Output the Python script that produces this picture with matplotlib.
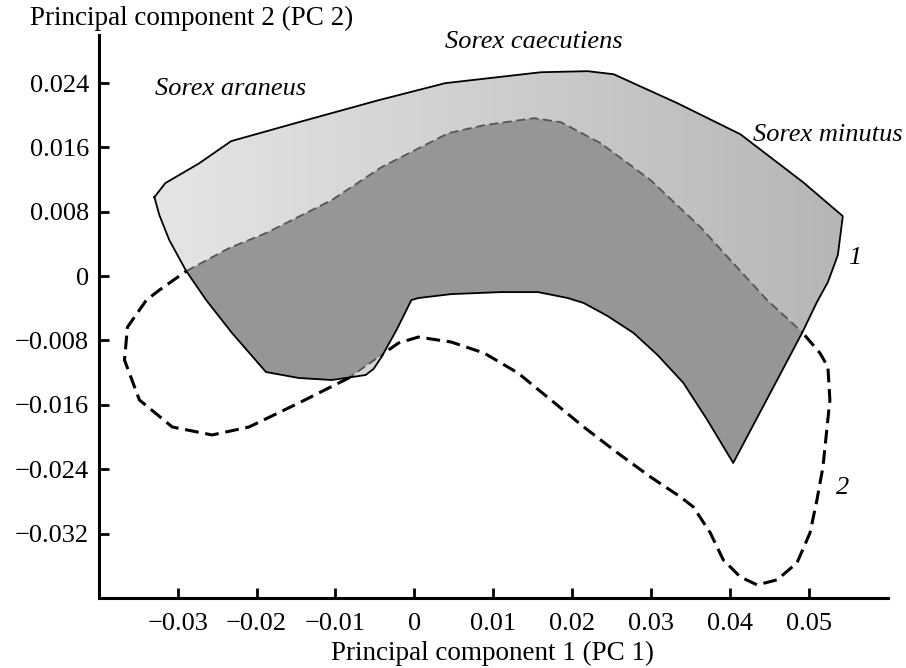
import numpy as np
import matplotlib
matplotlib.use('Agg')
import matplotlib.pyplot as plt
from matplotlib.path import Path
from matplotlib.patches import PathPatch

plt.rcParams['font.family'] = ['Liberation Serif', 'DejaVu Serif']
plt.rcParams['font.size'] = 19

# outline of region 1 (solid)
pc1_x = [-0.03295, -0.03157, -0.0273, -0.02323, -0.01465, -0.00455, 0.00391, 0.01604,
         0.02197, 0.02525, 0.03333, 0.04129, 0.04924, 0.05429, 0.05366, 0.0524, 0.05101,
         0.04912, 0.0404, 0.03712, 0.03409, 0.03081, 0.02778, 0.02449, 0.02146, 0.01944,
         0.01566, 0.01098, 0.00467, 0.0005, -0.00038, -0.00227, -0.00417, -0.00518,
         -0.00619, -0.01048, -0.01465, -0.01881, -0.02311, -0.02639, -0.02891, -0.03106,
         -0.03232]
pc2_y = [0.00981, 0.01155, 0.0140, 0.01677, 0.01913, 0.02186, 0.02398, 0.02534,
         0.02547, 0.02509, 0.02149, 0.01764, 0.01168, 0.00745, 0.00261, -0.00075, -0.00323,
         -0.00708, -0.02323, -0.01789, -0.01329, -0.00981, -0.00708, -0.00497, -0.00335, -0.00273,
         -0.00199, -0.00199, -0.00224, -0.00273, -0.00298, -0.00671, -0.01006, -0.01155,
         -0.0123, -0.01292, -0.01267, -0.01193, -0.00708, -0.00298, 0.00062, 0.00447,
         0.00758]

# outline of region 2 (dashed)
pc1_x2 = [-0.02891, -0.02348, -0.01881, -0.01048, -0.00417, 0.00429, 0.00884, 0.01515,
          0.01856, 0.02361, 0.02992, 0.03624, 0.0404, 0.0447, 0.04912, 0.05139, 0.0524,
          0.05265, 0.05177, 0.05101, 0.05013, 0.04848, 0.04596, 0.04343, 0.04129, 0.03914,
          0.0375, 0.03535, 0.03371, 0.02992, 0.02576, 0.02146, 0.0173, 0.01313, 0.00884,
          0.00467, 0.0005, -0.00202, -0.00417, -0.00833, -0.01465, -0.02096, -0.02563,
          -0.03068, -0.03485, -0.03674, -0.03636, -0.03396, -0.03232]
pc2_y2 = [0.00062, 0.00348, 0.00534, 0.00944, 0.01354, 0.01776, 0.01876, 0.01963,
          0.01913, 0.01652, 0.01193, 0.00609, 0.00161, -0.00298, -0.00696, -0.00957, -0.0113,
          -0.0154, -0.02373, -0.02783, -0.03193, -0.03565, -0.03776, -0.03839, -0.03739, -0.03528,
          -0.03193, -0.0287, -0.02745, -0.02497, -0.02199, -0.01876, -0.0154, -0.01205, -0.00957,
          -0.0082, -0.00758, -0.00832, -0.00981, -0.01267, -0.01578, -0.01876, -0.01975,
          -0.01876, -0.0154, -0.01043, -0.00634, -0.00298, -0.00174]

xticks = [-0.03, -0.02, -0.01, 0, 0.01, 0.02, 0.03, 0.04, 0.05]
xticklabels = ['\u22120.03', '\u22120.02', '\u22120.01', '0', '0.01', '0.02', '0.03', '0.04', '0.05']
yticks = [-0.032, -0.024, -0.016, -0.008, 0, 0.008, 0.016, 0.024]
yticklabels = ['\u22120.032', '\u22120.024', '\u22120.016', '\u22120.008', '0', '0.008', '0.016', '0.024']

species = ['Sorex araneus', 'Sorex caecutiens', 'Sorex minutus']
species_x = [-0.0233, 0.0151, 0.0524]
species_y = [0.0233, 0.0291, 0.0175]

fig = plt.figure(figsize=(9.06, 6.68), dpi=100)
ax = fig.add_axes([0.109, 0.105, 0.871, 0.843])
ax.set_xlim(-0.04, 0.06)
ax.set_ylim(-0.04, 0.03)

v1 = np.column_stack([pc1_x + [pc1_x[0]], pc2_y + [pc2_y[0]]])
v2 = np.column_stack([pc1_x2 + [pc1_x2[0]], pc2_y2 + [pc2_y2[0]]])
path1 = Path(v1, closed=True)
path2 = Path(v2, closed=True)

# dashed outline underneath (visible outside region 1)
ax.plot(v2[:, 0], v2[:, 1], color='black', lw=2.2, ls=(0, (4.5, 2.2)), zorder=1)

# region 1, light gradient fill
clip1 = PathPatch(path1, facecolor='none', edgecolor='none', transform=ax.transData)
ax.add_patch(clip1)
grad = np.linspace(0, 1, 256).reshape(1, -1)
im = ax.imshow(grad, extent=[-0.034, 0.056, -0.025, 0.027], aspect='auto',
               cmap=matplotlib.colors.LinearSegmentedColormap.from_list('g', ['#e6e6e6', '#b5b5b5']),
               zorder=2, interpolation='bilinear')
im.set_clip_path(clip1)

# overlap of both regions, darker
dark = PathPatch(path2, facecolor='#969696', edgecolor='none', zorder=3)
ax.add_patch(dark)
dark.set_clip_path(clip1)

# dashed outline over region 1
inner, = ax.plot(v2[:, 0], v2[:, 1], color='#555555', lw=1.3, ls=(0, (5, 2.5)), zorder=4)
inner.set_clip_path(clip1)

ax.plot(v1[:, 0], v1[:, 1], color='black', lw=1.3, zorder=5)

for name, x, y in zip(species, species_x, species_y):
    ax.text(x, y, name, style='italic', ha='center', va='center', fontsize=19)
ax.text(0.0558, 0.0022, '1', style='italic', ha='center', va='center', fontsize=19)
ax.text(0.0542, -0.0263, '2', style='italic', ha='center', va='center', fontsize=19)

ax.set_xticks(xticks)
ax.set_xticklabels(xticklabels)
ax.set_yticks(yticks)
ax.set_yticklabels(yticklabels)
ax.tick_params(direction='in', length=7, width=2, labelsize=19)
ax.tick_params(axis='x', pad=11)
ax.tick_params(axis='y', pad=7)
for s in ['top', 'right']:
    ax.spines[s].set_visible(False)
for s in ['left', 'bottom']:
    ax.spines[s].set_linewidth(2.2)

fig.text(0.544, 0.022, 'Principal component 1 (PC 1)', fontsize=19.5, ha='center', va='center')
fig.text(0.033, 0.972, 'Principal component 2 (PC 2)', fontsize=19.5, ha='left', va='center')

fig.savefig('out.png', dpi=100)
